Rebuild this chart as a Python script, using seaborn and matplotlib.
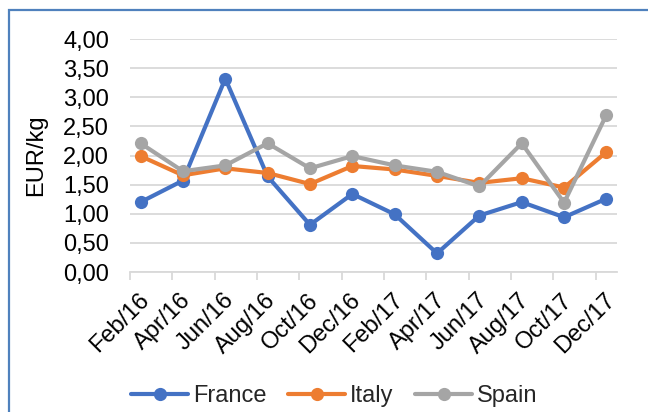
import matplotlib
matplotlib.use("Agg")
import matplotlib.pyplot as plt
from matplotlib.patches import Rectangle
from matplotlib.ticker import FuncFormatter
from matplotlib.transforms import ScaledTranslation
import numpy as np
import pandas as pd
import seaborn as sns

# datos (EUR/kg, cada dos meses)
meses = ["Feb/16", "Apr/16", "Jun/16", "Aug/16", "Oct/16", "Dec/16",
         "Feb/17", "Apr/17", "Jun/17", "Aug/17", "Oct/17", "Dec/17"]
francia = [1.20, 1.57, 3.32, 1.64, 0.81, 1.34, 0.99, 0.32, 0.97, 1.20, 0.94, 1.26]
italia = [1.99, 1.66, 1.78, 1.70, 1.51, 1.82, 1.76, 1.65, 1.53, 1.61, 1.45, 2.06]
espana = [2.21, 1.73, 1.83, 2.21, 1.78, 1.99, 1.83, 1.72, 1.47, 2.21, 1.19, 2.70]
paises = ["France", "Italy", "Spain"]
colores = ["#4472C4", "#ED7D31", "#A5A5A5"]

# eje de fechas mensual: cada punto en el centro de su mes
mes_idx = np.arange(len(meses)) * 2
pos = mes_idx + 0.5

df = pd.DataFrame({
    "pos": np.tile(pos, 3),
    "valor": francia + italia + espana,
    "pais": np.repeat(paises, len(meses)),
})

sns.set_style("white")
plt.rcParams["font.family"] = ["Liberation Sans", "DejaVu Sans"]
fs = 17

fig = plt.figure(figsize=(6.48, 4.12), dpi=100)
ax = fig.add_axes([0.2006, 0.3398, 0.7516, 0.5655])

sns.lineplot(data=df, x="pos", y="valor", hue="pais", palette=colores,
             marker="o", markersize=9.5, markeredgewidth=0, linewidth=3,
             ax=ax, legend=False)

ax.set_xlim(0, 23)
ax.set_ylim(0, 4)
ax.set_yticks(np.arange(0, 4.01, 0.5))
ax.yaxis.set_major_formatter(FuncFormatter(lambda v, p: f"{v:.2f}".replace(".", ",")))
ax.tick_params(axis="y", length=0, pad=15, labelsize=fs, colors="black")
ax.grid(True, axis="y", color="#D9D9D9", linewidth=1.3)
ax.set_axisbelow(True)

ax.set_xticks(pos)
ax.set_xticklabels(meses, rotation=45, ha="right", va="center", rotation_mode="anchor")
ax.set_xticks(mes_idx, minor=True)
ax.tick_params(axis="x", which="major", length=0, pad=18, labelsize=fs, colors="black")
ax.tick_params(axis="x", which="minor", length=5.8, width=1.3, color="#D9D9D9", bottom=True)
desplaz = ScaledTranslation(5 / 100, 0, fig.dpi_scale_trans)
for lab in ax.get_xticklabels():
    lab.set_transform(lab.get_transform() + desplaz)

for lado in ["left", "right", "top"]:
    ax.spines[lado].set_visible(False)
ax.spines["bottom"].set_color("#D9D9D9")
ax.spines["bottom"].set_linewidth(1.3)

ax.set_xlabel("")
ax.set_ylabel("EUR/kg", fontsize=fs, color="black")
ax.yaxis.set_label_coords(-0.171, 0.5)

handles = [plt.Line2D([], [], color=c, marker="o", markersize=9.5, markeredgewidth=0,
                      linewidth=3) for c in colores]
fig.legend(handles, paises, loc="center", bbox_to_anchor=(0.516, 0.039), ncol=3,
           frameon=False, fontsize=fs, handlelength=2.4, handletextpad=0.21,
           columnspacing=0.93, borderpad=0, borderaxespad=0)

# marco azul del grafico
fig.patches.append(Rectangle((9 / 648, -0.2), 1.2, 1.2 - 11 / 412 + 0.003,
                             transform=fig.transFigure, fill=False,
                             edgecolor="#4F81BD", linewidth=1.6))

fig.savefig("out.png", dpi=100)
plt.close(fig)
